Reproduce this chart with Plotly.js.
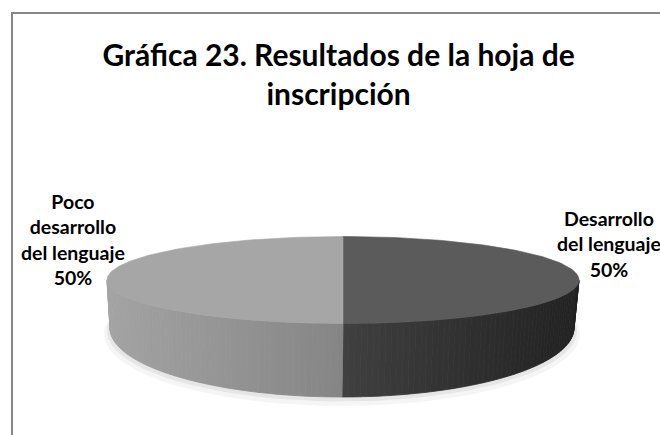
<!DOCTYPE html>
<html>
<head>
<meta charset="utf-8">
<script src="https://cdn.plot.ly/plotly-3.0.1.min.js"></script>
<style>html,body{margin:0;padding:0;background:#fff;}#chart{width:660px;height:435px;}</style>
</head>
<body>
<div id="chart"></div>
<script>
// ---- data ----
const categories = ['Desarrollo del lenguaje', 'Poco desarrollo del lenguaje'];
const values = [50, 50];
const labelLines = [['Desarrollo', 'del lenguaje'], ['Poco', 'desarrollo', 'del lenguaje']];
const titleText = 'Gráfica 23. Resultados de la hoja de<br>inscripción';

// ---- style / geometry (pixel-like axis units) ----
const TOP = {cx: 343, cy: 280, rx: 236, ry: 43.5};
const BOT = {cx: 342, cy: 328, rx: 232, ry: 69};
const topColors = ['#5b5b5b', '#a6a6a6'];
const sideColors = [['#404040', '#222222'], ['#a3a3a3', '#858585']]; // [left x, right x]
const labelPos = [{x: 609, y: 244}, {x: 73, y: 239}];
const FONT = 'Lato, "Open Sans", sans-serif';

function pt(e, deg) {
  const r = deg * Math.PI / 180;
  return [e.cx + e.rx * Math.sin(r), e.cy - e.ry * Math.cos(r)];
}
function hex(c) { return [1, 3, 5].map(i => parseInt(c.substr(i, 2), 16)); }
function mix(a, b, t) {
  const A = hex(a), B = hex(b);
  return 'rgb(' + A.map((v, i) => Math.round(v + (B[i] - v) * t)).join(',') + ')';
}

const total = values.reduce((s, v) => s + v, 0);
const traces = [];

// soft shadow
[[6, 0.04], [3, 0.06]].forEach(([o, a]) => {
  const xs = [], ys = [];
  for (let d = 0; d <= 360; d += 3) {
    const p = pt({cx: BOT.cx, cy: BOT.cy + o, rx: BOT.rx + o, ry: BOT.ry + o * 0.5}, d);
    xs.push(p[0]); ys.push(p[1]);
  }
  traces.push({type: 'scatter', mode: 'lines', x: xs, y: ys, fill: 'toself',
    fillcolor: 'rgba(0,0,0,' + a + ')', line: {width: 0}, hoverinfo: 'skip', showlegend: false});
});

// slice angles (clockwise from 12 o'clock)
let acc = 0;
const slices = values.map((v, i) => {
  const a0 = acc / total * 360; acc += v;
  return {i, a0, a1: acc / total * 360};
});

// side strips (front half 90..270)
slices.forEach(s => {
  const b0 = Math.max(s.a0, 90), b1 = Math.min(s.a1, 270);
  if (b1 <= b0) return;
  const xa = pt(TOP, b0)[0], xb = pt(TOP, b1)[0];
  const xmin = Math.min(xa, xb, b0 < 270 && b1 > 270 ? TOP.cx - TOP.rx : Infinity);
  const xmax = Math.max(xa, xb, b0 <= 90 ? TOP.cx + TOP.rx : -Infinity);
  const N = 60;
  for (let k = 0; k < N; k++) {
    const p = b0 + (b1 - b0) * k / N, q = b0 + (b1 - b0) * (k + 1) / N;
    const t1 = pt(TOP, p), t2 = pt(TOP, q), u2 = pt(BOT, q), u1 = pt(BOT, p);
    const xm = (t1[0] + t2[0]) / 2;
    const f = Math.min(1, Math.max(0, (xm - xmin) / (xmax - xmin)));
    const col = mix(sideColors[s.i][0], sideColors[s.i][1], f);
    traces.push({type: 'scatter', mode: 'lines',
      x: [t1[0], t2[0], u2[0], u1[0], t1[0]], y: [t1[1], t2[1], u2[1], u1[1], t1[1]],
      fill: 'toself', fillcolor: col, line: {width: 0.8, color: col},
      hoverinfo: 'skip', showlegend: false});
  }
});

// top faces
slices.forEach(s => {
  const xs = [TOP.cx], ys = [TOP.cy];
  const n = 120;
  for (let k = 0; k <= n; k++) {
    const p = pt(TOP, s.a0 + (s.a1 - s.a0) * k / n);
    xs.push(p[0]); ys.push(p[1]);
  }
  xs.push(TOP.cx); ys.push(TOP.cy);
  traces.push({type: 'scatter', mode: 'lines', x: xs, y: ys, fill: 'toself',
    fillcolor: topColors[s.i], line: {width: 0.6, color: topColors[s.i]},
    name: categories[s.i], hoverinfo: 'name', showlegend: false});
});

const annotations = slices.map(s => ({
  x: labelPos[s.i].x, y: labelPos[s.i].y, xref: 'x', yref: 'y',
  text: '<b>' + labelLines[s.i].join('<br>') + '<br>' + Math.round(values[s.i] / total * 100) + '%</b>',
  showarrow: false, align: 'center', xanchor: 'center', yanchor: 'middle',
  font: {family: FONT, size: 19.5, color: '#000'}
}));

const layout = {
  width: 660, height: 435,
  margin: {l: 0, r: 0, t: 0, b: 0},
  paper_bgcolor: '#fff', plot_bgcolor: '#fff',
  showlegend: false,
  title: {text: '<b>' + titleText + '</b>', x: 0.513, xanchor: 'center',
    y: 1 - 66 / 435, yanchor: 'middle', font: {family: FONT, size: 30, color: '#000'}},
  xaxis: {range: [0, 660], visible: false, fixedrange: true},
  yaxis: {range: [435, 0], visible: false, fixedrange: true},
  annotations: annotations,
  shapes: [{type: 'rect', xref: 'paper', yref: 'paper', x0: 12 / 660, x1: 1.02, y0: -0.02, y1: 1 - 13 / 435,
    line: {color: '#878787', width: 2}, fillcolor: 'rgba(0,0,0,0)', layer: 'below'}]
};

Plotly.newPlot('chart', traces, layout, {staticPlot: true, displayModeBar: false});
</script>
</body>
</html>
